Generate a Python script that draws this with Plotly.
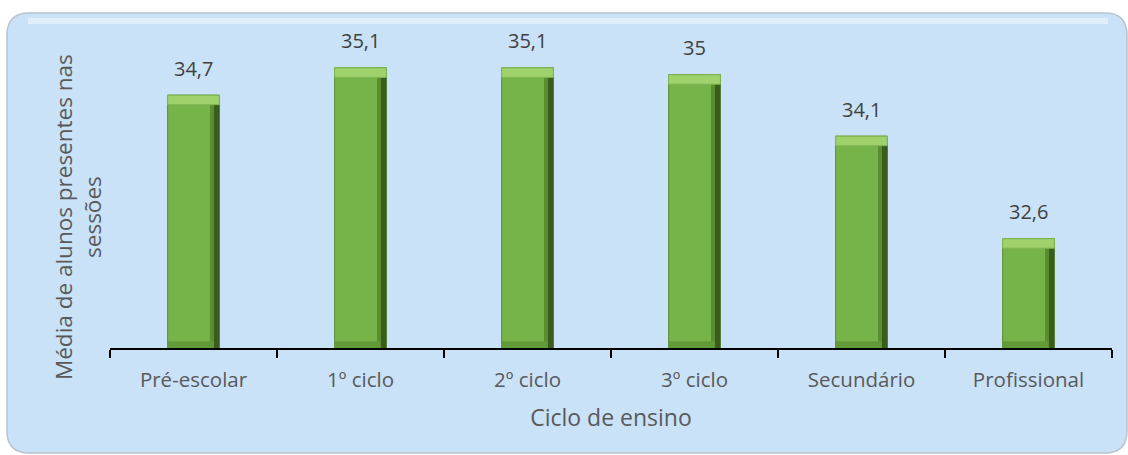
import plotly.graph_objects as go

# Average number of students present per session, by teaching cycle
categorias = ["Pré-escolar", "1º ciclo", "2º ciclo", "3º ciclo", "Secundário", "Profissional"]
media_alunos = [34.7, 35.1, 35.1, 35.0, 34.1, 32.6]

Y_MIN, Y_MAX = 31.0, 35.8

# Figure geometry (pixels)
W, H = 1128, 455
L, R, T, B = 110, 16, 20, 107
PW, PH = W - L - R, H - T - B

FONT = "Open Sans"


def px_x(px):
    return (px - L) / PW


def px_y(py):
    return (H - B - py) / PH


def rounded_rect(x0, y0, x1, y1, r):
    # rounded rectangle path in paper coordinates, given in pixels
    rx, ry = r / PW, r / PH
    a, b = px_x(x0), px_x(x1)
    top, bot = px_y(y0), px_y(y1)
    return (f"M {a + rx},{top} L {b - rx},{top} Q {b},{top} {b},{top - ry} "
            f"L {b},{bot + ry} Q {b},{bot} {b - rx},{bot} "
            f"L {a + rx},{bot} Q {a},{bot} {a},{bot + ry} "
            f"L {a},{top - ry} Q {a},{top} {a + rx},{top} Z")


def rotulo(v):
    return f"{v:g}".replace(".", ",")


BAR_W = 0.31
EDGE_W = 0.035
CAP_H = 0.14
BASE_H = 0.10

fig = go.Figure()

# main bar body
fig.add_trace(go.Bar(
    x=categorias, y=media_alunos, width=BAR_W,
    marker=dict(color="#76B348", line=dict(color="#5C8E34", width=1)),
    hoverinfo="skip", showlegend=False,
))
# shaded right edge of each bar (two tones)
fig.add_trace(go.Bar(
    x=categorias, y=media_alunos, width=EDGE_W, offset=BAR_W / 2 - EDGE_W,
    marker=dict(color="#3A5C1C", line=dict(width=0)),
    hoverinfo="skip", showlegend=False,
))
fig.add_trace(go.Bar(
    x=categorias, y=media_alunos, width=EDGE_W * 0.6, offset=BAR_W / 2 - EDGE_W * 1.6,
    marker=dict(color="#5A8C30", line=dict(width=0)),
    hoverinfo="skip", showlegend=False,
))
# darker foot of each bar
fig.add_trace(go.Bar(
    x=categorias, y=[BASE_H + Y_MIN] * len(categorias), width=BAR_W - EDGE_W,
    offset=-BAR_W / 2,
    marker=dict(color="#639A38", line=dict(width=0)),
    hoverinfo="skip", showlegend=False,
))
# light bevel cap on top of each bar
fig.add_trace(go.Bar(
    x=categorias, y=[CAP_H] * len(categorias),
    base=[v - CAP_H for v in media_alunos], width=BAR_W,
    marker=dict(color="#9FD26C", line=dict(color="#7FB552", width=1)),
    hoverinfo="skip", showlegend=False,
))

# value labels above the bars
for c, v in zip(categorias, media_alunos):
    fig.add_annotation(
        x=c, y=v, text=rotulo(v), showarrow=False, yshift=27,
        font=dict(family=FONT, size=20, color="#404040"),
    )

# y-axis title
fig.add_annotation(
    xref="paper", yref="paper", x=px_x(78), y=px_y(217),
    text="Média de alunos presentes nas<br>sessões", textangle=-90,
    showarrow=False, xanchor="center", yanchor="middle",
    font=dict(family=FONT, size=22.5, color="#595959"),
)

# background panel
fig.add_shape(
    type="path", xref="paper", yref="paper", layer="below",
    path=rounded_rect(7, 13, 1127, 453, 22),
    fillcolor="#C9E2F8", line=dict(color="#B8C4CE", width=1.5),
)
# soft glossy highlight along the panel's top edge
fig.add_shape(
    type="line", xref="paper", yref="paper", layer="below",
    x0=px_x(28), x1=px_x(1108), y0=px_y(21), y1=px_y(21),
    line=dict(color="rgba(255,255,255,0.45)", width=6),
)

fig.update_layout(
    width=W, height=H,
    margin=dict(l=L, r=R, t=T, b=B),
    paper_bgcolor="white", plot_bgcolor="rgba(0,0,0,0)",
    barmode="overlay", bargap=0.69,
    font=dict(family=FONT, color="#595959"),
    xaxis=dict(
        showline=True, linecolor="black", linewidth=1.5,
        ticks="outside", tickson="boundaries", ticklen=8, tickcolor="black",
        tickwidth=1.5, tickfont=dict(size=20.5, color="#595959"),
        ticklabelstandoff=13,
        title=dict(text="Ciclo de ensino", font=dict(size=23, color="#595959"), standoff=18),
        showgrid=False,
    ),
    yaxis=dict(
        range=[Y_MIN, Y_MAX], visible=False, showgrid=False, zeroline=False,
    ),
)

fig.write_html("out.html")
